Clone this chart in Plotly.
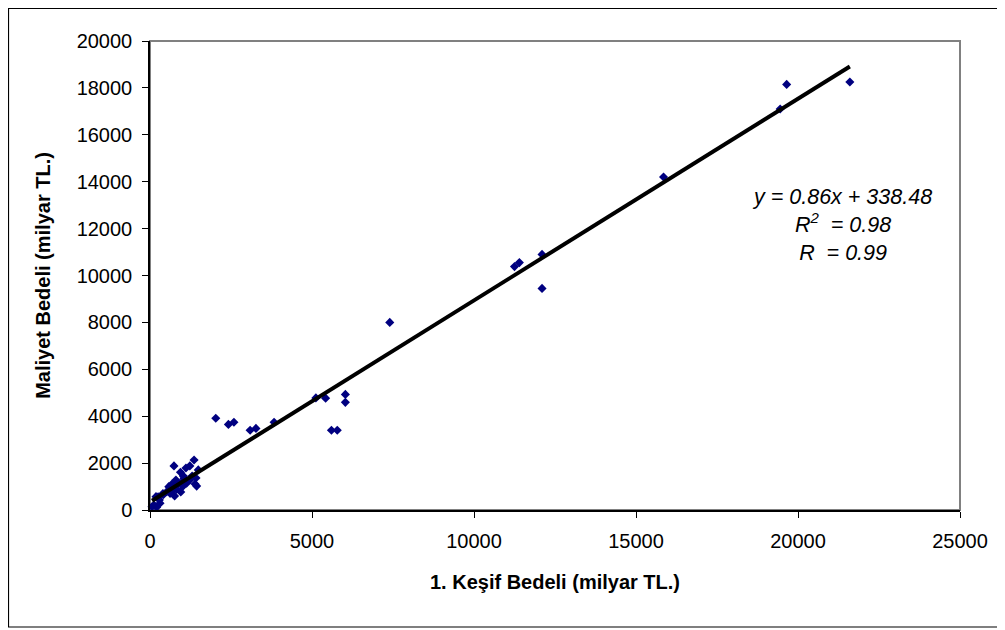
import plotly.graph_objects as go

# 1. Keşif Bedeli (milyar TL.)
kesif = [
    21600, 19650, 19450, 15850, 12100, 12100, 11250, 11400, 7400,
    6030, 6030, 5600, 5780, 5120, 5420, 2030, 2420, 2590, 3090, 3270, 3830,
    740, 1360, 1230, 1110, 940, 800, 680, 580, 1030, 1230, 1420, 1490,
    1390, 1440, 950, 760, 620, 410, 290, 185, 310, 205, 62, 123,
    820, 720, 1130, 875, 620, 515, 1010, 1050, 1000, 1300, 400, 250,
]
# Maliyet Bedeli (milyar TL.)
maliyet = [
    18250, 18150, 17100, 14200, 10900, 9450, 10380, 10550, 8000,
    4930, 4590, 3400, 3400, 4780, 4770, 3910, 3650, 3740, 3400, 3480, 3740,
    1880, 2130, 1880, 1790, 1610, 1280, 1110, 995, 1450, 1280, 1365, 1710,
    1110, 1020, 770, 600, 710, 650, 430, 570, 285, 115, 140, 215,
    880, 850, 1140, 1140, 880, 780, 1000, 1350, 1200, 1450, 700, 560,
]

slope = 0.86
intercept = 338.48
equation_lines = ["y = 0.86x + 338.48", "R<sup>2</sup>  = 0.98", "R  = 0.99"]

x_ticks = [0, 5000, 10000, 15000, 20000, 25000]
y_ticks = [0, 2000, 4000, 6000, 8000, 10000, 12000, 14000, 16000, 18000, 20000]

fit_x = [min(kesif), max(kesif)]
fit_y = [slope * v + intercept for v in fit_x]

FONT = "Liberation Sans, Arial, sans-serif"

fig = go.Figure()
fig.add_trace(go.Scatter(
    x=kesif, y=maliyet, mode="markers",
    marker=dict(symbol="diamond", size=7, color="#000080"),
    showlegend=False, cliponaxis=False,
))
fig.add_trace(go.Scatter(
    x=fit_x, y=fit_y, mode="lines",
    line=dict(color="black", width=4),
    showlegend=False,
))

fig.add_annotation(
    x=21350, y=12150, xref="x", yref="y",
    text="<br>".join(equation_lines), showarrow=False,
    align="center",
    font=dict(family=FONT, size=21.5, color="black", style="italic"),
)

# plot area frame (gray)
fig.add_shape(type="rect", xref="paper", yref="paper", x0=0, x1=1, y0=0, y1=1,
              line=dict(color="#808080", width=2), layer="below")
# outer chart border
fig.add_shape(type="rect", xref="paper", yref="paper",
              x0=-0.1747, x1=1.0531, y0=-0.2495, y1=1.0693,
              line=dict(color="black", width=1.2), layer="below")

fig.update_layout(
    width=997, height=622,
    margin=dict(l=142, r=45, t=33, b=120),
    paper_bgcolor="white", plot_bgcolor="white",
    font=dict(family=FONT, color="black"),
)
fig.update_xaxes(
    range=[0, 25000], tickvals=x_ticks, ticktext=[str(v) for v in x_ticks],
    showgrid=False, zeroline=False, showline=True, linecolor="black", linewidth=1.5,
    ticks="outside", ticklen=6, tickcolor="black", tickwidth=1,
    tickfont=dict(family=FONT, size=20), ticklabelstandoff=6,
    title=dict(text="<b>1. Keşif Bedeli (milyar TL.)</b>", font=dict(family=FONT, size=20), standoff=24),
)
fig.update_yaxes(
    range=[0, 20000], tickvals=y_ticks, ticktext=[str(v) for v in y_ticks],
    showgrid=False, zeroline=False, showline=True, linecolor="black", linewidth=1.5,
    ticks="outside", ticklen=6, tickcolor="black", tickwidth=1,
    tickfont=dict(family=FONT, size=20), ticklabelstandoff=6,
    title=dict(text="<b>Maliyet Bedeli (milyar TL.)</b>", font=dict(family=FONT, size=20), standoff=21),
)

fig.write_html("out.html")
